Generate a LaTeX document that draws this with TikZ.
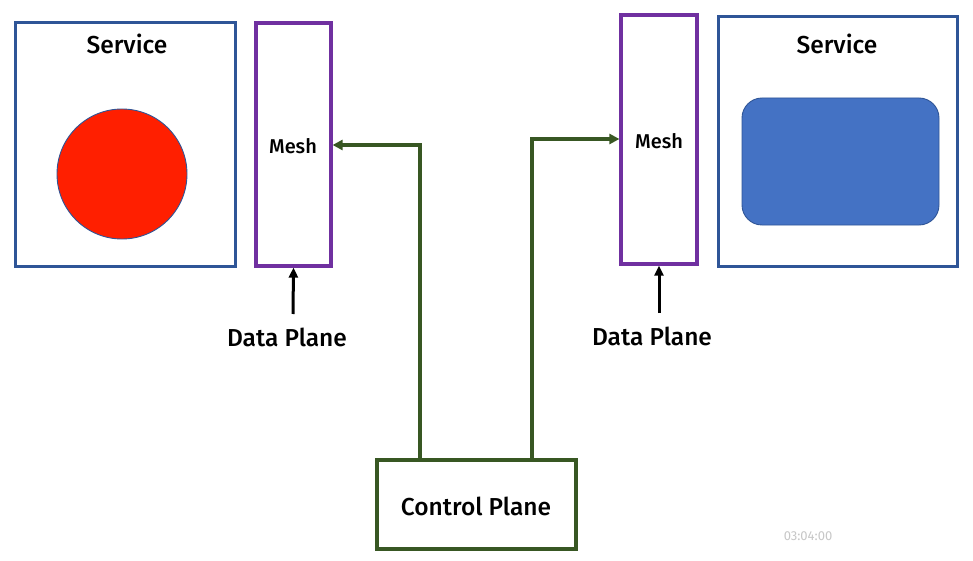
\documentclass[tikz,border=0pt]{standalone}
\usepackage{fontspec}
\setmainfont{Fira Sans}[BoldFont={Fira Sans Medium}]
\usetikzlibrary{arrows.meta}
\definecolor{svcblue}{HTML}{2F5597}
\definecolor{meshpurple}{HTML}{7030A0}
\definecolor{cpgreen}{HTML}{385723}
\definecolor{redfill}{HTML}{FF1F00}
\definecolor{bluefill}{HTML}{4472C4}
\begin{document}
\begin{tikzpicture}[x=1pt,y=-1pt,
  svcbox/.style={draw=svcblue,line width=3pt},
  meshbox/.style={draw=meshpurple,line width=3.2pt},
  cpbox/.style={draw=cpgreen,line width=3.4pt},
  bigtext/.style={font=\fontsize{24.5}{28}\selectfont\bfseries,inner sep=0pt},
  smalltext/.style={font=\fontsize{20}{24}\selectfont\bfseries,inner sep=0pt},
  ctrl/.style={draw=cpgreen,line width=3.6pt,-{Triangle[length=10pt,width=10pt]}},
  dp/.style={draw=black,line width=3pt,-{Triangle[length=10pt,width=9pt]}}]
\useasboundingbox[fill=white] (0,0) rectangle (973,561);
% left service
\draw[svcbox] (15,23) rectangle (235,266);
\node[bigtext] (svcL) at (127,44) {Service};
\node[circle,draw=svcblue,line width=0.9pt,fill=redfill,minimum size=130pt,inner sep=0pt] (ball) at (122,174) {};
% left mesh
\node[meshbox,minimum width=75pt,minimum height=243pt,inner sep=0pt] (meshL) at (293.5,144.5) {};
\node[smalltext] (meshLt) at (293,146) {Mesh};
% right mesh
\node[meshbox,minimum width=76pt,minimum height=249pt,inner sep=0pt] (meshR) at (659,139.5) {};
\node[smalltext] (meshRt) at (659,141) {Mesh};
% right service
\draw[svcbox] (718,17) rectangle (957,266);
\node[bigtext] (svcR) at (837,44) {Service};
\node[draw=svcblue,line width=0.9pt,fill=bluefill,rounded corners=20pt,minimum width=197pt,minimum height=127pt,inner sep=0pt] (rect) at (840.5,161.5) {};
% control plane
\node[cpbox,minimum width=199pt,minimum height=89pt,inner sep=0pt] (cp) at (476.5,504.5) {};
\node[bigtext] (cpt) at (476,506) {Control Plane};
% data plane labels
\node[bigtext] (dpL) at (287,337) {Data Plane};
\node[bigtext] (dpR) at (652,336) {Data Plane};
\coordinate (dpLs) at (293,314);
\coordinate (dpRs) at (659,313);
\draw[dp] (dpLs) -- (meshL.south);
\draw[dp] (dpRs) -- (meshR.south);
% control connectors
\coordinate (cL) at (420,145);
\coordinate (cR) at (532,139);
\draw[ctrl] (cp.north -| cL) -- (cL) -- (cL -| meshL.east);
\draw[ctrl] (cp.north -| cR) -- (cR) -- (cR -| meshR.west);
% video overlay timestamp
\node[font=\fontsize{13}{15}\selectfont,text=black!22,inner sep=0pt] (ts) at (808,536) {03:04:00};
\end{tikzpicture}
\end{document}
